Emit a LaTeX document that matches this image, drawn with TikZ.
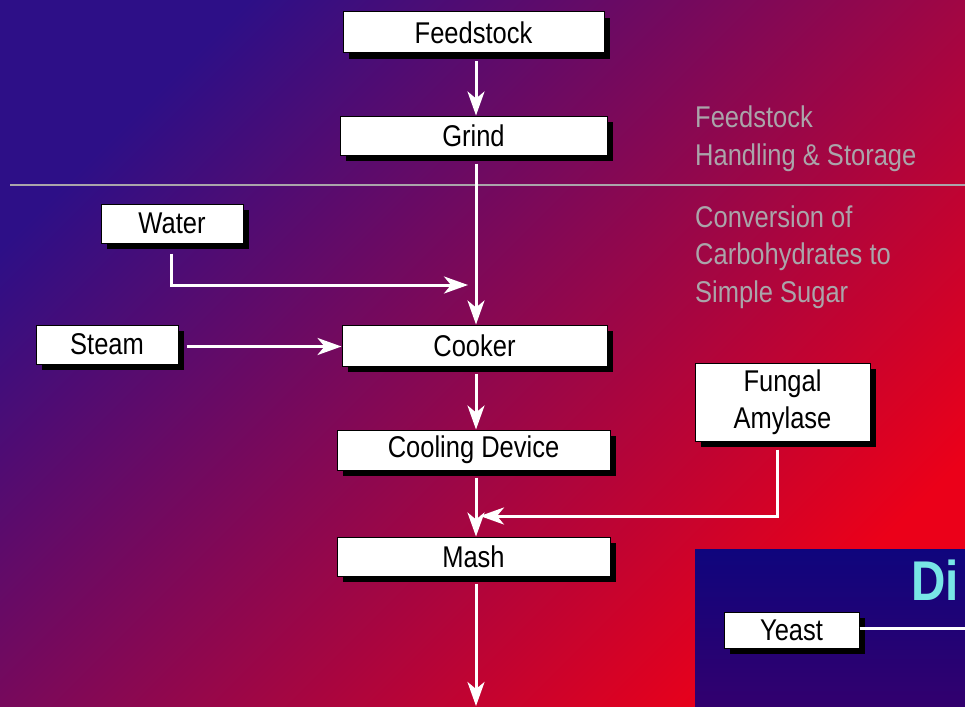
\documentclass[tikz,border=0pt]{standalone}
\usepackage{fontspec}
\setmainfont[FakeStretch=0.85]{Liberation Sans}
\usetikzlibrary{arrows.meta,shadows}
\definecolor{bgA}{RGB}{45,15,135}
\definecolor{bgB}{RGB}{140,0,85}
\definecolor{bgC}{RGB}{235,0,25}
\definecolor{panelA}{RGB}{15,5,125}
\definecolor{panelB}{RGB}{50,0,110}
\definecolor{sidegray}{RGB}{170,165,170}
\definecolor{cyanD}{RGB}{120,230,230}
\begin{document}
\begin{tikzpicture}[x=1pt,y=-1pt,
  box/.style={draw=black, line width=1pt, fill=white, text=black,
    font=\fontsize{30}{37}\selectfont, inner sep=0pt, align=center,
    drop shadow={shadow xshift=6pt,shadow yshift=-6pt,opacity=1,fill=black}},
  flow/.style={draw=white, line width=3pt, -{Stealth[length=24pt,width=17pt,inset=7pt]}},
  plain/.style={draw=white, line width=3pt},
  side/.style={text=sidegray, font=\fontsize{30}{37.5}\selectfont, anchor=base west, inner sep=0pt}
]
\useasboundingbox (0,0) rectangle (965,706);
\clip (0,0) rectangle (965,706);
\shade[top color=bgA, middle color=bgB, bottom color=bgC, shading angle=45] (0,0) rectangle (965,706);

% divider and side labels
\coordinate (dl) at (10,185);
\coordinate (dr) at (965,185);
\draw[sidegray, line width=1.5pt] (dl) -- (dr);
\node[side] (s1) at (695,128) {Feedstock};
\node[side] (s2) at (695,165) {Handling \& Storage};
\node[side] (s3) at (695,227) {Conversion of};
\node[side] (s4) at (695,264.5) {Carbohydrates to};
\node[side] (s5) at (695,302) {Simple Sugar};

% bottom-right panel
\shade[top color=panelA, bottom color=panelB] (695,549) rectangle (965,706);
\node[text=cyanD, font=\fontsize{56}{60}\bfseries\selectfont, anchor=base west, inner sep=0pt] (di) at (911,600) {Di};

% boxes
\node[box, minimum width=261pt, minimum height=41pt] (feed) at (473.5,32.5) {Feedstock};
\node[box, minimum width=267pt, minimum height=39pt] (grind) at (473.5,135.5) {Grind};
\node[box, minimum width=142pt, minimum height=39pt] (water) at (172,223.5) {Water};
\node[box, minimum width=142pt, minimum height=39pt] (steam) at (107,344.5) {Steam};
\node[box, minimum width=265pt, minimum height=41pt] (cook) at (474.5,345.5) {Cooker};
\node[box, minimum width=273pt, minimum height=40pt] (cool) at (473.5,450) {Cooling Device};
\node[box, minimum width=273pt, minimum height=39pt] (mash) at (473.5,556.5) {Mash};
\node[box, minimum width=175pt, minimum height=78pt] (fung) at (782.5,402) {Fungal\\Amylase};
\node[box, minimum width=135pt, minimum height=36pt] (yeast) at (791.5,630) {Yeast};

% connectors
\coordinate (wj) at (468,285);
\coordinate (fj) at (480,516);
\coordinate (out) at (476,706);
\coordinate (ye) at (970,628);
\draw[flow] ([xshift=2.5pt,yshift=-8pt]feed.south) -- ([xshift=2.5pt]grind.north);
\draw[flow] ([xshift=2.5pt,yshift=-8pt]grind.south) -- ([xshift=1.5pt]cook.north);
\draw[flow] ([xshift=-1pt,yshift=-10pt]water.south) |- (wj);
\draw[flow] ([xshift=8pt,yshift=-2pt]steam.east) -- ([yshift=-2pt]steam.east -| cook.west);
\draw[flow] ([xshift=1.5pt,yshift=-7pt]cook.south) -- ([xshift=2.5pt]cool.north);
\draw[flow] ([xshift=2.5pt,yshift=-7pt]cool.south) -- ([xshift=2.5pt]mash.north);
\draw[flow] ([xshift=-5.5pt,yshift=-8pt]fung.south) |- (fj);
\draw[flow] ([xshift=2.5pt,yshift=-7pt]mash.south) -- (out);
\draw[plain] ([yshift=2pt]yeast.east) -- (ye);
\end{tikzpicture}
\end{document}
